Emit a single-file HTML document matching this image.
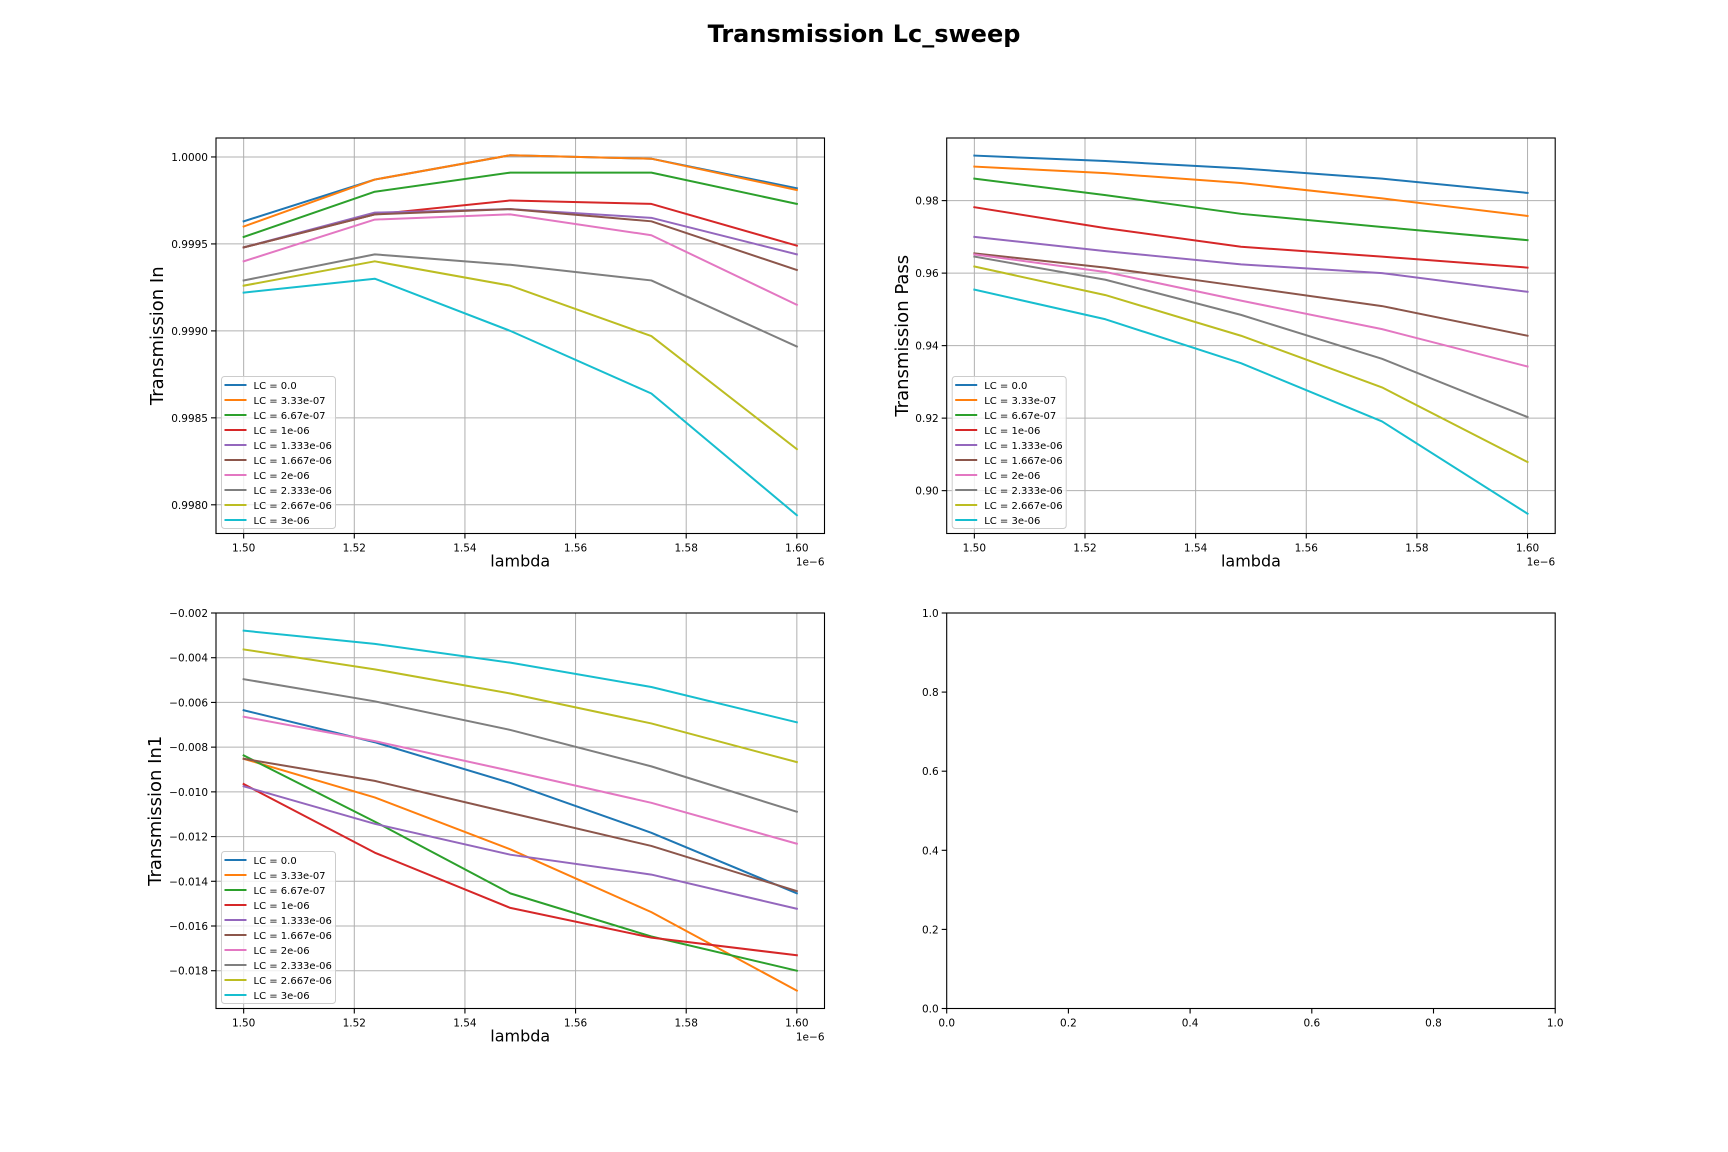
<!DOCTYPE html>
<html><head><meta charset="utf-8"><title>Transmission Lc_sweep</title>
<style>
html,body{margin:0;padding:0;background:#fff;}
svg{display:block;font-family:"DejaVu Sans","Liberation Sans",sans-serif;}
</style></head>
<body>
<svg id="fig" width="1728" height="1152" viewBox="0 0 1728 1152" xmlns="http://www.w3.org/2000/svg">
<rect width="1728" height="1152" fill="#fff"/>
<text x="864" y="42" text-anchor="middle" font-size="24" font-weight="bold" fill="#000">Transmission Lc_sweep</text>
</svg>
<script>
const lambdaVals = [1.5, 1.5237, 1.5482, 1.5737, 1.6];
const lcLabels = ["LC = 0.0","LC = 3.33e-07","LC = 6.67e-07","LC = 1e-06","LC = 1.333e-06","LC = 1.667e-06","LC = 2e-06","LC = 2.333e-06","LC = 2.667e-06","LC = 3e-06"];
const colors = ["#1f77b4","#ff7f0e","#2ca02c","#d62728","#9467bd","#8c564b","#e377c2","#7f7f7f","#bcbd22","#17becf"];
const xTicks = [1.50,1.52,1.54,1.56,1.58,1.60];
const xTickLabels = ["1.50","1.52","1.54","1.56","1.58","1.60"];

const inVals = [
 [0.99963,0.99987,1.00001,0.99999,0.99982],
 [0.99960,0.99987,1.00001,0.99999,0.99981],
 [0.99954,0.99980,0.99991,0.99991,0.99973],
 [0.99948,0.99967,0.99975,0.99973,0.99949],
 [0.99948,0.99968,0.99970,0.99965,0.99944],
 [0.99948,0.99967,0.99970,0.99963,0.99935],
 [0.99940,0.99964,0.99967,0.99955,0.99915],
 [0.99929,0.99944,0.99938,0.99929,0.99891],
 [0.99926,0.99940,0.99926,0.99897,0.99832],
 [0.99922,0.99930,0.99900,0.99864,0.99794]
];
const inTicks = [0.9980,0.9985,0.9990,0.9995,1.0000];
const inTickLabels = ["0.9980","0.9985","0.9990","0.9995","1.0000"];

const passVals = [
 [0.99242,0.99091,0.98890,0.98606,0.98212],
 [0.98939,0.98758,0.98485,0.98061,0.97576],
 [0.98606,0.98152,0.97636,0.97273,0.96909],
 [0.97818,0.97242,0.96727,0.96455,0.96152],
 [0.97000,0.96606,0.96242,0.96000,0.95485],
 [0.96545,0.96152,0.95636,0.95091,0.94273],
 [0.96515,0.96030,0.95242,0.94455,0.93424],
 [0.96455,0.95818,0.94848,0.93636,0.92030],
 [0.96182,0.95394,0.94273,0.92848,0.90788],
 [0.95545,0.94727,0.93515,0.91909,0.89364]
];
const passTicks = [0.90,0.92,0.94,0.96,0.98];
const passTickLabels = ["0.90","0.92","0.94","0.96","0.98"];

const in1Vals = [
 [-0.00635,-0.00778,-0.00960,-0.01183,-0.01454],
 [-0.00852,-0.01025,-0.01257,-0.01538,-0.01889],
 [-0.00837,-0.01133,-0.01454,-0.01647,-0.01800],
 [-0.00965,-0.01272,-0.01519,-0.01652,-0.01731],
 [-0.00975,-0.01143,-0.01281,-0.01370,-0.01523],
 [-0.00852,-0.00951,-0.01094,-0.01242,-0.01444],
 [-0.00664,-0.00773,-0.00906,-0.01049,-0.01232],
 [-0.00496,-0.00595,-0.00723,-0.00886,-0.01089],
 [-0.00363,-0.00452,-0.00560,-0.00694,-0.00867],
 [-0.00279,-0.00338,-0.00422,-0.00531,-0.00689]
];
const in1Ticks = [-0.018,-0.016,-0.014,-0.012,-0.010,-0.008,-0.006,-0.004,-0.002];
const in1TickLabels = ["\u22120.018","\u22120.016","\u22120.014","\u22120.012","\u22120.010","\u22120.008","\u22120.006","\u22120.004","\u22120.002"];

const emptyTicks = [0.0,0.2,0.4,0.6,0.8,1.0];
const emptyTickLabels = ["0.0","0.2","0.4","0.6","0.8","1.0"];

const NS = "http://www.w3.org/2000/svg";
const svg = document.getElementById('fig');
function mk(tag, attrs, parent){
  const e = document.createElementNS(NS, tag);
  for (const k in attrs) e.setAttribute(k, attrs[k]);
  (parent||svg).appendChild(e);
  return e;
}
const TICK_FS = 10.5, LEG_FS = 10, LAB_FS = 16, YLAB_FS = 18;

function panel(cfg){
  const g = mk('g', {});
  
  
  const L = cfg.x, T = cfg.y, W = cfg.w, H = cfg.h;
  const xs = v => L + (v - cfg.xmin) / (cfg.xmax - cfg.xmin) * W;
  const ys = v => T + H - (v - cfg.ymin) / (cfg.ymax - cfg.ymin) * H;
  if (cfg.grid){
    cfg.xt.forEach(v => {
      const l = mk('line', {x1:xs(v), x2:xs(v), y1:T, y2:T+H, stroke:'#b0b0b0', 'stroke-width':1}, g);
      
      
    });
    cfg.yt.forEach(v => {
      const l = mk('line', {x1:L, x2:L+W, y1:ys(v), y2:ys(v), stroke:'#b0b0b0', 'stroke-width':1}, g);
      
      
    });
  }
  if (cfg.series){
    cfg.series.forEach((row, i) => {
      const d = row.map((v, j) => (j ? 'L' : 'M') + xs(lambdaVals[j]).toFixed(2) + ' ' + ys(v).toFixed(2)).join(' ');
      const p = mk('path', {d:d, fill:'none', stroke:colors[i], 'stroke-width':2, 'stroke-linejoin':'round', 'stroke-linecap':'square'}, g);
      
      
    });
  }
  const fr = mk('rect', {x:L, y:T, width:W, height:H, fill:'none', stroke:'#000', 'stroke-width':1.1}, g);
  
  
  cfg.xt.forEach((v, i) => {
    mk('line', {x1:xs(v), x2:xs(v), y1:T+H, y2:T+H+5, stroke:'#000', 'stroke-width':1.1}, g);
    const t = mk('text', {x:xs(v), y:T+H+18, 'text-anchor':'middle', 'font-size':TICK_FS, fill:'#000'}, g);
    t.textContent = cfg.xl[i];
    
    
  });
  cfg.yt.forEach((v, i) => {
    mk('line', {x1:L-5, x2:L, y1:ys(v), y2:ys(v), stroke:'#000', 'stroke-width':1.1}, g);
    const t = mk('text', {x:L-8, y:ys(v)+4, 'text-anchor':'end', 'font-size':TICK_FS, fill:'#000'}, g);
    t.textContent = cfg.yl[i];
    
    
  });
  if (cfg.offset){
    const t = mk('text', {x:L+W, y:T+H+32, 'text-anchor':'end', 'font-size':TICK_FS, fill:'#000'}, g);
    t.textContent = '1e\u22126';
    
    
  }
  if (cfg.xlabel){
    const t = mk('text', {x:L+W/2, y:T+H+33, 'text-anchor':'middle', 'font-size':LAB_FS, fill:'#000'}, g);
    t.textContent = cfg.xlabel;
    
    
  }
  if (cfg.ylabel){
    const cx = cfg.ylx, cy = T + H/2;
    const t = mk('text', {x:cx, y:cy, 'text-anchor':'middle', 'font-size':YLAB_FS, fill:'#000', transform:'rotate(-90 '+cx+' '+cy+')'}, g);
    t.textContent = cfg.ylabel;
    
    
  }
  if (cfg.series){
    const lg = mk('g', {}, g);
    
    
    const bx = L + 5.5, bh = 152, by = T + H - 5 - bh;
    mk('rect', {x:bx, y:by, width:114, height:bh, rx:3, fill:'#fff', 'fill-opacity':0.8, stroke:'#cccccc', 'stroke-width':1}, lg);
    lcLabels.forEach((lab, i) => {
      const yy = by + 8.5 + i * 15;
      const ln = mk('line', {x1:bx+3, x2:bx+25, y1:yy, y2:yy, stroke:colors[i], 'stroke-width':2}, lg);
      
      
      const t = mk('text', {x:bx+32, y:yy+3.8, 'font-size':LEG_FS, fill:'#000'}, lg);
      t.textContent = lab;
      
      
    });
  }
}

const AX = {l1:216, l2:946.7, w:608.5, t1:138, t2:613, h:395.5};
panel({name:'plot-transmission-in', x:AX.l1, y:AX.t1, w:AX.w, h:AX.h, xmin:1.495, xmax:1.605, ymin:0.997835, ymax:1.000109,
  xt:xTicks, xl:xTickLabels, yt:inTicks, yl:inTickLabels, grid:true, series:inVals, offset:true, xlabel:'lambda', ylabel:'Transmission In', ylx:163});
panel({name:'plot-transmission-pass', x:AX.l2, y:AX.t1, w:AX.w, h:AX.h, xmin:1.495, xmax:1.605, ymin:0.88818, ymax:0.99727,
  xt:xTicks, xl:xTickLabels, yt:passTicks, yl:passTickLabels, grid:true, series:passVals, offset:true, xlabel:'lambda', ylabel:'Transmission Pass', ylx:908});
panel({name:'plot-transmission-in1', x:AX.l1, y:AX.t2, w:AX.w, h:AX.h, xmin:1.495, xmax:1.605, ymin:-0.01969, ymax:-0.002,
  xt:xTicks, xl:xTickLabels, yt:in1Ticks, yl:in1TickLabels, grid:true, series:in1Vals, offset:true, xlabel:'lambda', ylabel:'Transmission In1', ylx:161});
panel({name:'plot-empty', x:AX.l2, y:AX.t2, w:AX.w, h:AX.h, xmin:0, xmax:1, ymin:0, ymax:1,
  xt:emptyTicks, xl:emptyTickLabels, yt:emptyTicks, yl:emptyTickLabels, grid:false});
</script>
</body></html>
